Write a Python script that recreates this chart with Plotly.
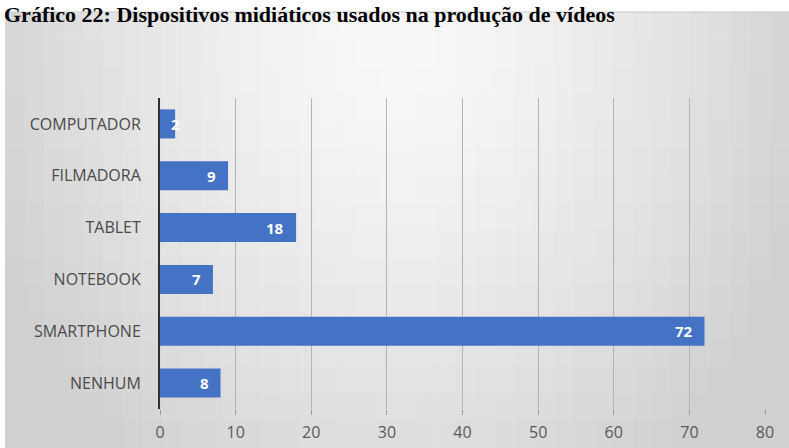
import plotly.graph_objects as go

categories = ["NENHUM", "SMARTPHONE", "NOTEBOOK", "TABLET", "FILMADORA", "COMPUTADOR"]
values = [8, 72, 7, 18, 9, 2]
tick_vals = [0, 10, 20, 30, 40, 50, 60, 70, 80]
title_text = "Gráfico 22: Dispositivos midiáticos usados na produção de vídeos"

W, H = 789, 448
L, R, T, B = 160, 24, 98, 39
pw, ph = W - L - R, H - T - B
XMAX = 80

def px_x(p):
    return (p - L) / pw

def px_y(p):
    return (H - B - p) / ph

fig = go.Figure()
fig.add_trace(go.Bar(
    y=categories, x=values, orientation="h",
    marker=dict(color="#4472C4", line=dict(width=0)),
    width=0.56, hoverinfo="x+y",
))

# data labels (inside end, like the original)
annotations = []
for c, v in zip(categories, values):
    bar_px = v / XMAX * pw
    if bar_px > 30:
        annotations.append(dict(x=v, y=c, xref="x", yref="y", text=str(v),
                                xanchor="right", xshift=-10, showarrow=False,
                                font=dict(family="Open Sans", size=15, color="white", weight="bold")))
    else:
        annotations.append(dict(x=v, y=c, xref="x", yref="y", text=str(v),
                                xanchor="center", xshift=0, showarrow=False,
                                font=dict(family="Open Sans", size=15, color="white", weight="bold")))

annotations.append(dict(text="<b>" + title_text + "</b>", xref="paper", yref="paper",
                        x=px_x(2), y=px_y(29), xanchor="left", yanchor="bottom",
                        showarrow=False,
                        font=dict(family="Liberation Serif", size=22, color="black")))

shapes = []
# radial-ish gradient background of the chart box
nx, ny = 40, 16
bx0, bx1, by0, by1 = 5, W, 12, H
cx, cy, rx, ry = 395, 30, 430, 540
for i in range(nx):
    a = bx0 + (bx1 - bx0) * i / nx
    b = bx0 + (bx1 - bx0) * (i + 1) / nx + 0.6
    for j in range(ny):
        c0 = by0 + (by1 - by0) * j / ny
        c1 = by0 + (by1 - by0) * (j + 1) / ny + 0.6
        mx, my = (a + b) / 2, (c0 + c1) / 2
        r = min((((mx - cx) / rx) ** 2 + ((my - cy) / ry) ** 2) ** 0.5, 1.0)
        g = int(round(248 - 40 * r ** 1.5))
        shapes.append(dict(type="rect", xref="paper", yref="paper",
                           x0=px_x(a), x1=px_x(min(b, W)), y0=px_y(min(c1, H)), y1=px_y(c0),
                           fillcolor=f"rgb({g},{g},{g})", line=dict(width=0), layer="below"))
# thin shadow line at the box top
shapes.append(dict(type="line", xref="paper", yref="paper",
                   x0=px_x(5), x1=px_x(W), y0=px_y(12), y1=px_y(12),
                   line=dict(color="#c8c8c8", width=1), layer="below"))

fig.update_layout(
    width=W, height=H,
    margin=dict(l=L, r=R, t=T, b=B, pad=0),
    paper_bgcolor="white",
    plot_bgcolor="rgba(0,0,0,0)",
    showlegend=False,
    shapes=shapes,
    annotations=annotations,
    xaxis=dict(range=[0, XMAX], tickvals=tick_vals, showgrid=True,
               gridcolor="#b4b4b4", gridwidth=1, zeroline=False,
               ticks="outside", ticklen=5, tickcolor="#9a9a9a",
               tickfont=dict(family="Open Sans", size=16, color="#595959"),
               ticklabelstandoff=4,
               showline=False, fixedrange=True, automargin=False),
    yaxis=dict(showgrid=False, zeroline=False, showline=True,
               linecolor="#303030", linewidth=2, ticks="", ticklen=0,
               tickfont=dict(family="Open Sans", size=16, color="#4a4a4a"),
               ticklabelstandoff=14, fixedrange=True, automargin=False),
)

fig.write_html("out.html", config={"displayModeBar": False},
               post_script="document.body.style.margin='0';")
